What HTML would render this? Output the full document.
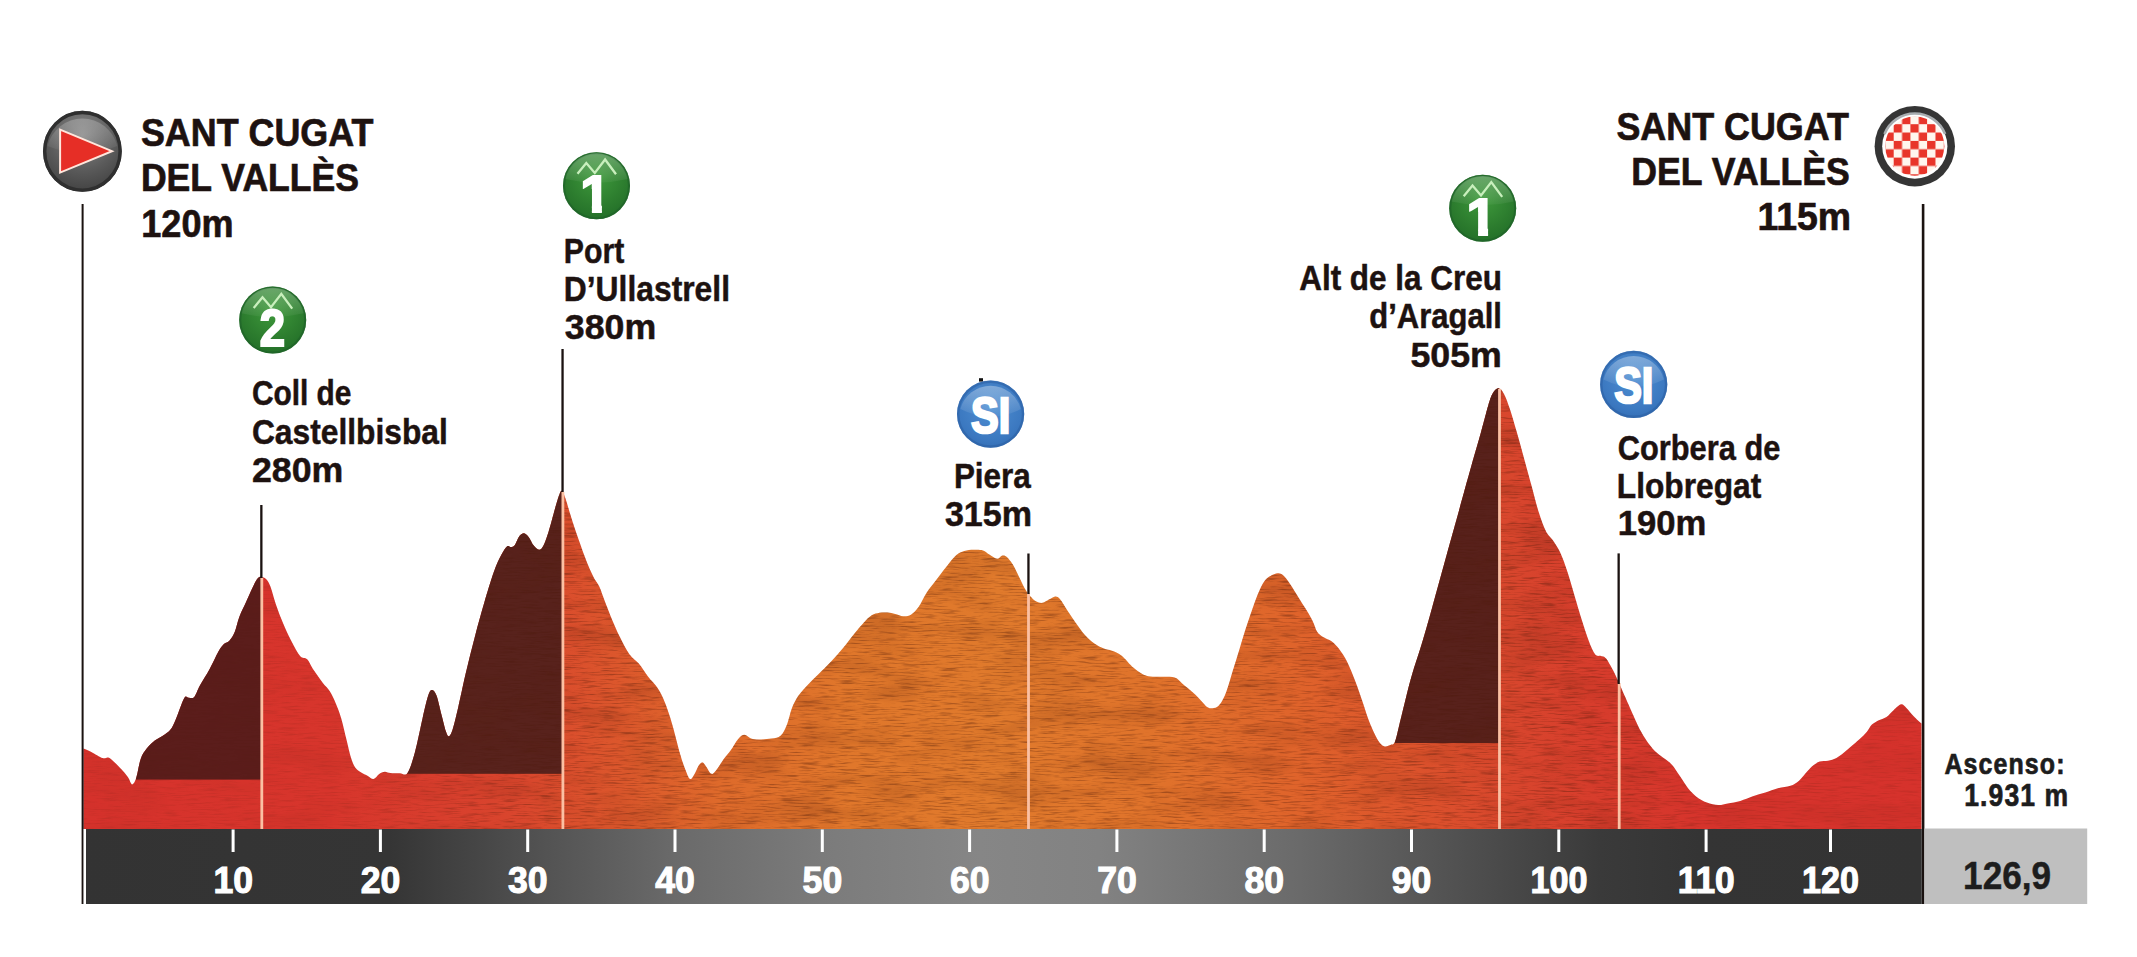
<!DOCTYPE html>
<html lang="ca"><head><meta charset="utf-8"><title>Sant Cugat del Vallès – Sant Cugat del Vallès</title>
<style>html,body{margin:0;padding:0;background:#fff}body{width:2137px;height:957px;overflow:hidden}svg{display:block}text{font-family:"Liberation Sans",sans-serif}</style>
</head><body>
<svg width="2137" height="957" viewBox="0 0 2137 957">
<defs>
<linearGradient id="pg" gradientUnits="userSpaceOnUse" x1="83" y1="0" x2="1922" y2="0">
<stop offset="0.0000" stop-color="#d6322c"/>
<stop offset="0.1343" stop-color="#d7352c"/>
<stop offset="0.1941" stop-color="#d83e2d"/>
<stop offset="0.2376" stop-color="#d9462d"/>
<stop offset="0.2920" stop-color="#dc572c"/>
<stop offset="0.3464" stop-color="#de6a2b"/>
<stop offset="0.4171" stop-color="#e0772b"/>
<stop offset="0.4986" stop-color="#e07a2c"/>
<stop offset="0.5802" stop-color="#e0732b"/>
<stop offset="0.6618" stop-color="#df632b"/>
<stop offset="0.7270" stop-color="#dc522c"/>
<stop offset="0.7814" stop-color="#d8452d"/>
<stop offset="0.8249" stop-color="#d73c2c"/>
<stop offset="0.8793" stop-color="#d6342c"/>
<stop offset="1.0000" stop-color="#d6322c"/>
</linearGradient>
<linearGradient id="bg" gradientUnits="userSpaceOnUse" x1="83" y1="0" x2="1922" y2="0">
<stop offset="0.0000" stop-color="#333333"/>
<stop offset="0.1669" stop-color="#353535"/>
<stop offset="0.2431" stop-color="#505050"/>
<stop offset="0.3219" stop-color="#6a6a6a"/>
<stop offset="0.4018" stop-color="#7b7b7b"/>
<stop offset="0.4878" stop-color="#868686"/>
<stop offset="0.5530" stop-color="#828282"/>
<stop offset="0.6618" stop-color="#6a6a6a"/>
<stop offset="0.7433" stop-color="#525252"/>
<stop offset="0.8249" stop-color="#3a3a3a"/>
<stop offset="0.8793" stop-color="#343434"/>
<stop offset="1.0000" stop-color="#333333"/>
</linearGradient>
<clipPath id="k1c"><path d="M-4.6 -14 H5.4 V30 H-4.6 Z M-16 -14 H-4 V3.4 H-16 Z"/></clipPath>
<clipPath id="pc"><path d="M83.4 748.5C84.7 749.1 88.1 750.3 91.3 751.9C94.5 753.5 99.8 757.1 102.6 758.1C105.4 759.1 106.3 757.0 108.2 757.6C110.1 758.2 111.6 759.7 113.9 761.8C116.2 763.9 120.0 767.7 122.3 770.3C124.6 772.9 126.3 774.9 128.0 777.3C129.7 779.6 130.8 784.4 132.2 784.4C133.6 784.4 135.0 781.5 136.4 777.3C137.8 773.1 139.0 763.7 140.7 759.0C142.3 754.3 144.0 752.2 146.3 749.1C148.7 746.0 151.7 743.1 154.8 740.6C157.9 738.1 161.9 736.5 164.7 734.4C167.5 732.3 169.6 731.1 171.7 727.9C173.8 724.7 175.3 720.2 177.4 715.2C179.5 710.2 182.5 700.6 184.4 697.7C186.3 694.8 187.0 697.8 188.7 697.7C190.3 697.6 192.4 698.9 194.3 696.9C196.2 694.9 197.3 690.3 199.9 685.6C202.5 680.9 206.7 674.4 209.8 668.7C212.9 663.1 216.0 655.8 218.3 651.7C220.7 647.6 222.0 646.0 223.9 644.1C225.8 642.2 227.8 642.4 229.6 640.4C231.4 638.4 233.0 636.0 234.7 632.0C236.3 628.0 237.5 621.6 239.5 616.4C241.5 611.2 244.2 606.1 246.5 600.9C248.8 595.7 251.7 589.2 253.6 585.4C255.5 581.6 256.5 579.7 257.8 578.3C259.1 576.9 260.1 576.8 261.5 576.9C262.9 577.0 264.8 577.6 266.3 579.2C267.8 580.9 268.9 582.5 270.5 586.8C272.1 591.1 274.1 599.1 276.2 605.2C278.3 611.3 280.6 617.4 283.2 623.5C285.8 629.6 288.9 636.4 291.7 641.8C294.5 647.2 297.5 653.1 300.1 656.0C302.7 658.9 305.1 657.2 307.2 659.3C309.3 661.4 310.2 664.8 312.8 668.7C315.4 672.6 319.9 679.0 322.7 682.8C325.5 686.5 327.7 687.9 329.8 691.2C331.9 694.5 333.5 698.0 335.4 702.5C337.3 707.0 339.2 711.6 341.1 718.0C343.0 724.4 345.1 734.0 346.7 740.6C348.3 747.2 349.5 753.1 350.9 757.6C352.3 762.1 353.5 765.0 355.2 767.4C356.9 769.8 358.7 770.8 360.8 772.2C362.9 773.6 365.8 774.8 367.9 775.9C370.0 777.0 371.6 779.3 373.5 779.0C375.4 778.7 377.3 775.1 379.2 773.9C381.1 772.7 382.9 771.8 384.8 771.7C386.7 771.6 388.0 772.9 390.5 773.1C393.0 773.4 397.2 773.2 400.0 773.2C402.8 773.2 405.0 776.5 407.5 773.0C410.0 769.5 412.5 761.1 415.0 752.0C417.5 742.9 420.4 727.6 422.6 718.2C424.8 708.8 426.6 700.3 428.2 695.6C429.8 690.9 430.6 690.0 432.0 690.0C433.4 690.0 434.9 691.5 436.5 695.6C438.1 699.7 439.8 708.5 441.4 714.4C443.0 720.3 444.6 727.7 445.9 731.3C447.1 734.9 447.8 736.5 448.9 736.2C450.0 735.9 451.0 734.3 452.6 729.4C454.2 724.5 456.1 716.3 458.3 706.9C460.5 697.5 463.0 684.9 465.8 673.0C468.6 661.1 472.1 647.3 475.2 635.4C478.3 623.5 481.5 612.2 484.6 601.6C487.7 591.0 491.2 579.3 494.0 571.5C496.8 563.7 499.3 558.8 501.5 554.6C503.7 550.4 505.6 547.5 507.2 546.3C508.8 545.0 509.6 547.3 510.9 547.1C512.1 546.9 513.2 547.1 514.7 545.2C516.2 543.3 518.0 537.8 519.6 535.8C521.2 533.8 522.6 533.0 524.1 533.2C525.6 533.4 527.0 534.9 528.6 536.9C530.2 538.9 531.8 543.1 533.5 545.2C535.2 547.3 537.4 549.7 539.1 549.7C540.8 549.7 542.0 548.2 543.6 545.2C545.2 542.2 546.7 537.6 548.5 532.0C550.3 526.4 552.5 517.4 554.2 511.4C555.9 505.4 557.5 499.8 558.7 496.3C560.0 492.9 560.6 490.4 561.7 490.7C562.8 491.0 563.8 493.8 565.4 498.2C567.0 502.6 568.9 510.1 571.1 517.0C573.3 523.9 576.1 532.4 578.6 539.6C581.1 546.8 583.6 553.9 586.1 560.2C588.6 566.5 591.4 572.8 593.6 577.2C595.8 581.6 597.4 582.5 599.3 586.6C601.2 590.7 602.7 596.0 604.9 601.6C607.1 607.2 609.9 614.5 612.4 620.4C614.9 626.3 617.2 631.7 620.0 637.3C622.8 642.9 626.3 649.8 629.4 654.2C632.5 658.6 635.7 659.8 638.8 663.6C641.9 667.4 645.1 672.7 648.2 676.8C651.3 680.9 654.8 683.7 657.6 688.1C660.4 692.5 662.6 696.8 665.1 703.1C667.6 709.4 670.1 717.2 672.6 725.7C675.1 734.2 677.9 746.4 680.1 753.9C682.3 761.4 684.1 766.6 685.8 770.8C687.5 775.0 688.7 778.8 690.3 779.1C691.9 779.4 693.8 775.0 695.2 772.7C696.6 770.4 697.6 766.9 698.9 765.2C700.1 763.5 701.5 762.2 702.7 762.5C704.0 762.8 705.0 765.1 706.4 767.0C707.8 768.9 709.7 773.2 711.3 773.8C712.9 774.4 713.8 773.2 715.8 770.8C717.8 768.4 720.9 763.0 723.4 759.5C725.9 756.0 728.4 753.6 730.9 750.1C733.4 746.6 736.1 741.3 738.4 738.8C740.6 736.2 742.3 734.8 744.4 734.8C746.5 734.8 748.6 737.7 751.0 738.5C753.4 739.3 755.4 739.5 758.8 739.5C762.2 739.5 767.7 739.2 771.4 738.5C775.1 737.8 778.2 737.8 780.8 735.4C783.4 733.0 785.2 728.8 787.0 724.4C788.8 720.0 789.9 713.4 791.7 708.7C793.5 704.0 795.4 700.1 798.0 696.2C800.6 692.3 804.0 688.9 807.4 685.2C810.8 681.5 814.5 678.1 818.4 674.2C822.3 670.3 826.7 666.1 830.9 661.7C835.1 657.3 839.6 652.3 843.5 647.6C847.4 642.9 851.1 637.7 854.5 633.5C857.9 629.3 861.0 625.5 863.9 622.5C866.8 619.5 869.1 616.9 871.7 615.3C874.3 613.7 876.9 613.3 879.5 612.8C882.1 612.3 884.8 612.3 887.4 612.5C890.0 612.7 892.6 613.4 895.2 614.0C897.8 614.6 900.5 616.1 903.1 616.2C905.7 616.3 908.3 616.3 910.9 614.7C913.5 613.1 916.1 610.5 918.7 606.8C921.3 603.1 923.7 597.1 926.6 592.7C929.5 588.3 932.6 584.6 936.0 580.2C939.4 575.8 943.6 570.3 947.0 566.1C950.4 561.9 953.5 557.6 956.4 555.1C959.3 552.6 961.3 551.9 964.2 551.0C967.1 550.1 970.5 549.9 973.6 549.8C976.7 549.7 980.4 549.6 983.0 550.4C985.6 551.2 986.9 553.1 989.3 554.5C991.6 555.9 995.0 558.6 997.1 558.8C999.2 559.0 1000.2 556.1 1001.8 555.7C1003.4 555.4 1004.7 555.2 1006.5 556.7C1008.3 558.2 1010.7 561.1 1012.8 564.5C1014.9 567.9 1017.0 572.8 1019.1 577.0C1021.2 581.2 1023.6 586.5 1025.4 589.6C1027.2 592.8 1028.3 593.9 1030.1 595.9C1031.9 597.9 1034.2 600.4 1036.3 601.5C1038.4 602.6 1040.5 603.1 1042.6 602.8C1044.7 602.5 1046.8 600.6 1048.9 599.6C1051.0 598.6 1053.4 596.6 1055.2 596.5C1057.0 596.4 1058.1 597.0 1059.9 599.0C1061.7 601.0 1063.5 604.5 1066.1 608.4C1068.7 612.3 1072.4 618.1 1075.5 622.5C1078.6 626.9 1081.8 631.5 1084.9 635.0C1088.1 638.5 1091.2 641.2 1094.4 643.5C1097.6 645.8 1100.9 647.3 1103.8 648.5C1106.7 649.7 1109.1 649.6 1112.0 650.7C1114.9 651.9 1117.8 652.5 1121.4 655.4C1125.1 658.3 1129.7 664.6 1133.9 668.0C1138.1 671.4 1141.7 674.3 1146.4 675.8C1151.1 677.3 1157.4 676.5 1162.1 676.8C1166.8 677.1 1171.3 676.2 1174.7 677.4C1178.1 678.5 1179.4 681.1 1182.5 683.7C1185.6 686.3 1190.4 690.2 1193.5 693.1C1196.6 696.0 1199.0 698.5 1201.3 700.9C1203.6 703.2 1205.5 706.0 1207.6 707.2C1209.7 708.4 1211.8 708.6 1213.9 708.1C1216.0 707.6 1218.0 706.8 1220.1 704.0C1222.2 701.2 1224.3 697.0 1226.4 691.5C1228.5 686.0 1230.6 677.9 1232.7 671.1C1234.8 664.3 1236.9 657.5 1239.0 650.7C1241.1 643.9 1243.1 636.8 1245.2 630.3C1247.3 623.8 1249.4 617.5 1251.5 611.5C1253.6 605.5 1255.7 599.3 1257.8 594.3C1259.9 589.3 1261.9 584.7 1264.0 581.7C1266.1 578.7 1267.9 577.5 1270.3 576.1C1272.7 574.7 1275.8 573.2 1278.2 573.3C1280.6 573.3 1282.3 574.5 1284.4 576.4C1286.5 578.3 1288.4 581.4 1290.7 584.9C1293.0 588.4 1295.9 593.2 1298.5 597.4C1301.1 601.6 1304.1 606.1 1306.4 610.0C1308.8 613.9 1310.8 617.2 1312.6 620.9C1314.4 624.5 1315.5 629.2 1317.3 631.9C1319.1 634.6 1321.2 635.6 1323.6 637.2C1326.0 638.8 1328.9 639.3 1331.5 641.3C1334.1 643.3 1336.7 645.8 1339.3 649.2C1341.9 652.6 1344.5 656.5 1347.1 661.7C1349.7 666.9 1352.4 673.7 1355.0 680.5C1357.6 687.3 1360.5 695.7 1362.8 702.5C1365.1 709.3 1367.0 715.8 1369.1 721.3C1371.2 726.8 1373.6 731.8 1375.4 735.4C1377.2 739.0 1378.5 741.4 1380.1 743.2C1381.7 745.0 1383.0 746.1 1384.8 746.4C1386.6 746.7 1389.3 745.7 1391.0 744.8C1392.7 743.9 1393.5 745.5 1395.2 741.0C1396.9 736.5 1398.3 728.6 1401.0 718.0C1403.7 707.4 1407.5 690.6 1411.2 677.5C1414.9 664.4 1419.2 652.7 1423.2 639.1C1427.2 625.5 1431.3 610.3 1435.3 595.9C1439.3 581.5 1443.3 567.0 1447.3 552.6C1451.3 538.2 1455.3 523.8 1459.3 509.4C1463.3 495.0 1467.7 478.9 1471.3 466.1C1474.9 453.3 1478.1 442.5 1480.9 432.5C1483.7 422.5 1486.1 412.6 1488.1 406.0C1490.1 399.4 1491.1 396.1 1492.9 393.1C1494.7 390.2 1496.9 388.2 1498.7 388.3C1500.5 388.4 1502.2 390.6 1504.0 394.0C1505.8 397.4 1507.5 402.0 1509.7 408.4C1511.9 414.8 1514.5 424.1 1516.9 432.5C1519.3 440.9 1521.8 450.1 1524.2 458.9C1526.6 467.7 1529.0 476.5 1531.4 485.3C1533.8 494.1 1536.2 504.2 1538.6 511.8C1541.0 519.4 1543.4 526.2 1545.8 531.0C1548.2 535.8 1550.6 537.0 1553.0 540.6C1555.4 544.2 1557.8 547.4 1560.2 552.6C1562.6 557.8 1565.0 564.6 1567.4 571.8C1569.8 579.0 1572.2 587.9 1574.6 595.9C1577.0 603.9 1579.4 612.3 1581.8 619.9C1584.2 627.5 1586.8 635.7 1589.0 641.5C1591.2 647.3 1593.3 652.1 1595.3 654.5C1597.3 656.9 1599.2 655.3 1601.0 655.9C1602.8 656.5 1603.9 655.9 1605.9 658.3C1607.9 660.7 1610.9 666.3 1613.1 670.3C1615.2 674.3 1616.8 678.0 1618.8 682.4C1620.8 686.8 1622.4 690.8 1625.1 696.8C1627.8 702.8 1632.2 712.9 1634.7 718.4C1637.2 723.9 1638.1 726.1 1640.0 729.8C1641.9 733.4 1643.9 736.8 1646.3 740.3C1648.7 743.8 1651.5 747.6 1654.6 750.7C1657.7 753.8 1662.1 756.7 1665.1 759.1C1668.1 761.5 1670.0 762.5 1672.4 765.3C1674.8 768.1 1677.1 772.0 1679.7 775.8C1682.3 779.6 1685.3 784.8 1688.1 788.3C1690.9 791.8 1693.3 794.3 1696.4 796.7C1699.5 799.1 1703.2 801.1 1706.9 802.5C1710.6 803.9 1714.8 804.9 1718.3 805.0C1721.8 805.1 1724.0 804.1 1727.7 803.4C1731.4 802.7 1736.1 802.1 1740.3 800.9C1744.5 799.7 1748.6 797.7 1752.8 796.3C1757.0 794.9 1761.1 793.8 1765.3 792.5C1769.5 791.2 1773.7 789.4 1777.9 788.3C1782.1 787.2 1786.9 787.0 1790.4 785.8C1793.9 784.6 1796.0 783.4 1798.8 781.0C1801.6 778.6 1804.7 774.2 1807.1 771.6C1809.5 769.0 1811.3 767.0 1813.4 765.3C1815.5 763.6 1817.3 762.4 1819.7 761.6C1822.1 760.9 1825.2 761.4 1828.0 760.8C1830.8 760.2 1833.8 759.3 1836.4 758.0C1839.0 756.7 1841.3 754.7 1843.7 752.8C1846.1 750.9 1848.4 748.8 1851.0 746.5C1853.6 744.2 1856.8 741.6 1859.4 739.2C1862.0 736.8 1864.6 734.3 1866.7 731.9C1868.8 729.5 1870.0 726.5 1871.9 724.6C1873.8 722.7 1875.8 721.7 1878.2 720.4C1880.6 719.1 1883.9 718.6 1886.5 716.9C1889.1 715.2 1891.4 712.1 1893.8 710.0C1896.2 707.9 1899.0 704.6 1901.1 704.3C1903.2 703.9 1904.3 705.9 1906.4 707.9C1908.5 709.9 1911.2 713.7 1913.7 716.3C1916.2 718.9 1920.2 722.4 1921.5 723.6L1921.5 829.0 L83.4 829.0 Z"/></clipPath>
<radialGradient id="gk" cx="0.5" cy="0.35" r="0.75"><stop offset="0" stop-color="#3f9a3c"/><stop offset="0.6" stop-color="#2c7c2e"/><stop offset="1" stop-color="#1f6a26"/></radialGradient>
<radialGradient id="gs" cx="0.5" cy="0.4" r="0.7"><stop offset="0" stop-color="#4f8fd2"/><stop offset="0.7" stop-color="#3b78c0"/><stop offset="1" stop-color="#2f68ad"/></radialGradient>
<linearGradient id="gloss" x1="0" y1="0" x2="0" y2="1"><stop offset="0" stop-color="#fff" stop-opacity="0.55"/><stop offset="1" stop-color="#fff" stop-opacity="0.08"/></linearGradient>
<radialGradient id="gst" cx="0.5" cy="0.3" r="0.8"><stop offset="0" stop-color="#8a8a8a"/><stop offset="0.55" stop-color="#5a5a5a"/><stop offset="1" stop-color="#3a3a3a"/></radialGradient>
<pattern id="chk" x="1910.4" y="140.9" width="16.7" height="16.7" patternUnits="userSpaceOnUse"><rect width="16.7" height="16.7" fill="#fff6ee"/><rect width="8.35" height="8.35" fill="#e8352a"/><rect x="8.35" y="8.35" width="8.35" height="8.35" fill="#e8352a"/></pattern>
<filter id="tex" filterUnits="userSpaceOnUse" x="80" y="380" width="1845" height="450" color-interpolation-filters="sRGB"><feTurbulence type="fractalNoise" baseFrequency="0.05 0.65" numOctaves="3" seed="7" result="n"/><feColorMatrix in="n" type="matrix" values="0 0 0 0 0.30  0 0 0 0 0.10  0 0 0 0 0.04  3.0 0 0 0 -1.45"/></filter>
<filter id="tex2" filterUnits="userSpaceOnUse" x="80" y="380" width="1845" height="450" color-interpolation-filters="sRGB"><feTurbulence type="fractalNoise" baseFrequency="0.012 0.04" numOctaves="3" seed="11" result="n"/><feColorMatrix in="n" type="matrix" values="0 0 0 0 0.35  0 0 0 0 0.12  0 0 0 0 0.05  2.6 0 0 0 -1.2"/></filter>
<linearGradient id="tmg" gradientUnits="userSpaceOnUse" x1="83" y1="0" x2="1922" y2="0"><stop offset="0" stop-color="#fff" stop-opacity="0.3"/><stop offset="0.14" stop-color="#fff" stop-opacity="0.35"/><stop offset="0.25" stop-color="#fff" stop-opacity="1"/><stop offset="0.82" stop-color="#fff" stop-opacity="1"/><stop offset="0.9" stop-color="#fff" stop-opacity="0.5"/><stop offset="1" stop-color="#fff" stop-opacity="0.35"/></linearGradient>
<mask id="tm" maskUnits="userSpaceOnUse" x="80" y="380" width="1845" height="450"><rect x="80" y="380" width="1845" height="450" fill="url(#tmg)"/></mask>
</defs>
<rect width="2137" height="957" fill="#fff"/>
<path d="M83.4 748.5C84.7 749.1 88.1 750.3 91.3 751.9C94.5 753.5 99.8 757.1 102.6 758.1C105.4 759.1 106.3 757.0 108.2 757.6C110.1 758.2 111.6 759.7 113.9 761.8C116.2 763.9 120.0 767.7 122.3 770.3C124.6 772.9 126.3 774.9 128.0 777.3C129.7 779.6 130.8 784.4 132.2 784.4C133.6 784.4 135.0 781.5 136.4 777.3C137.8 773.1 139.0 763.7 140.7 759.0C142.3 754.3 144.0 752.2 146.3 749.1C148.7 746.0 151.7 743.1 154.8 740.6C157.9 738.1 161.9 736.5 164.7 734.4C167.5 732.3 169.6 731.1 171.7 727.9C173.8 724.7 175.3 720.2 177.4 715.2C179.5 710.2 182.5 700.6 184.4 697.7C186.3 694.8 187.0 697.8 188.7 697.7C190.3 697.6 192.4 698.9 194.3 696.9C196.2 694.9 197.3 690.3 199.9 685.6C202.5 680.9 206.7 674.4 209.8 668.7C212.9 663.1 216.0 655.8 218.3 651.7C220.7 647.6 222.0 646.0 223.9 644.1C225.8 642.2 227.8 642.4 229.6 640.4C231.4 638.4 233.0 636.0 234.7 632.0C236.3 628.0 237.5 621.6 239.5 616.4C241.5 611.2 244.2 606.1 246.5 600.9C248.8 595.7 251.7 589.2 253.6 585.4C255.5 581.6 256.5 579.7 257.8 578.3C259.1 576.9 260.1 576.8 261.5 576.9C262.9 577.0 264.8 577.6 266.3 579.2C267.8 580.9 268.9 582.5 270.5 586.8C272.1 591.1 274.1 599.1 276.2 605.2C278.3 611.3 280.6 617.4 283.2 623.5C285.8 629.6 288.9 636.4 291.7 641.8C294.5 647.2 297.5 653.1 300.1 656.0C302.7 658.9 305.1 657.2 307.2 659.3C309.3 661.4 310.2 664.8 312.8 668.7C315.4 672.6 319.9 679.0 322.7 682.8C325.5 686.5 327.7 687.9 329.8 691.2C331.9 694.5 333.5 698.0 335.4 702.5C337.3 707.0 339.2 711.6 341.1 718.0C343.0 724.4 345.1 734.0 346.7 740.6C348.3 747.2 349.5 753.1 350.9 757.6C352.3 762.1 353.5 765.0 355.2 767.4C356.9 769.8 358.7 770.8 360.8 772.2C362.9 773.6 365.8 774.8 367.9 775.9C370.0 777.0 371.6 779.3 373.5 779.0C375.4 778.7 377.3 775.1 379.2 773.9C381.1 772.7 382.9 771.8 384.8 771.7C386.7 771.6 388.0 772.9 390.5 773.1C393.0 773.4 397.2 773.2 400.0 773.2C402.8 773.2 405.0 776.5 407.5 773.0C410.0 769.5 412.5 761.1 415.0 752.0C417.5 742.9 420.4 727.6 422.6 718.2C424.8 708.8 426.6 700.3 428.2 695.6C429.8 690.9 430.6 690.0 432.0 690.0C433.4 690.0 434.9 691.5 436.5 695.6C438.1 699.7 439.8 708.5 441.4 714.4C443.0 720.3 444.6 727.7 445.9 731.3C447.1 734.9 447.8 736.5 448.9 736.2C450.0 735.9 451.0 734.3 452.6 729.4C454.2 724.5 456.1 716.3 458.3 706.9C460.5 697.5 463.0 684.9 465.8 673.0C468.6 661.1 472.1 647.3 475.2 635.4C478.3 623.5 481.5 612.2 484.6 601.6C487.7 591.0 491.2 579.3 494.0 571.5C496.8 563.7 499.3 558.8 501.5 554.6C503.7 550.4 505.6 547.5 507.2 546.3C508.8 545.0 509.6 547.3 510.9 547.1C512.1 546.9 513.2 547.1 514.7 545.2C516.2 543.3 518.0 537.8 519.6 535.8C521.2 533.8 522.6 533.0 524.1 533.2C525.6 533.4 527.0 534.9 528.6 536.9C530.2 538.9 531.8 543.1 533.5 545.2C535.2 547.3 537.4 549.7 539.1 549.7C540.8 549.7 542.0 548.2 543.6 545.2C545.2 542.2 546.7 537.6 548.5 532.0C550.3 526.4 552.5 517.4 554.2 511.4C555.9 505.4 557.5 499.8 558.7 496.3C560.0 492.9 560.6 490.4 561.7 490.7C562.8 491.0 563.8 493.8 565.4 498.2C567.0 502.6 568.9 510.1 571.1 517.0C573.3 523.9 576.1 532.4 578.6 539.6C581.1 546.8 583.6 553.9 586.1 560.2C588.6 566.5 591.4 572.8 593.6 577.2C595.8 581.6 597.4 582.5 599.3 586.6C601.2 590.7 602.7 596.0 604.9 601.6C607.1 607.2 609.9 614.5 612.4 620.4C614.9 626.3 617.2 631.7 620.0 637.3C622.8 642.9 626.3 649.8 629.4 654.2C632.5 658.6 635.7 659.8 638.8 663.6C641.9 667.4 645.1 672.7 648.2 676.8C651.3 680.9 654.8 683.7 657.6 688.1C660.4 692.5 662.6 696.8 665.1 703.1C667.6 709.4 670.1 717.2 672.6 725.7C675.1 734.2 677.9 746.4 680.1 753.9C682.3 761.4 684.1 766.6 685.8 770.8C687.5 775.0 688.7 778.8 690.3 779.1C691.9 779.4 693.8 775.0 695.2 772.7C696.6 770.4 697.6 766.9 698.9 765.2C700.1 763.5 701.5 762.2 702.7 762.5C704.0 762.8 705.0 765.1 706.4 767.0C707.8 768.9 709.7 773.2 711.3 773.8C712.9 774.4 713.8 773.2 715.8 770.8C717.8 768.4 720.9 763.0 723.4 759.5C725.9 756.0 728.4 753.6 730.9 750.1C733.4 746.6 736.1 741.3 738.4 738.8C740.6 736.2 742.3 734.8 744.4 734.8C746.5 734.8 748.6 737.7 751.0 738.5C753.4 739.3 755.4 739.5 758.8 739.5C762.2 739.5 767.7 739.2 771.4 738.5C775.1 737.8 778.2 737.8 780.8 735.4C783.4 733.0 785.2 728.8 787.0 724.4C788.8 720.0 789.9 713.4 791.7 708.7C793.5 704.0 795.4 700.1 798.0 696.2C800.6 692.3 804.0 688.9 807.4 685.2C810.8 681.5 814.5 678.1 818.4 674.2C822.3 670.3 826.7 666.1 830.9 661.7C835.1 657.3 839.6 652.3 843.5 647.6C847.4 642.9 851.1 637.7 854.5 633.5C857.9 629.3 861.0 625.5 863.9 622.5C866.8 619.5 869.1 616.9 871.7 615.3C874.3 613.7 876.9 613.3 879.5 612.8C882.1 612.3 884.8 612.3 887.4 612.5C890.0 612.7 892.6 613.4 895.2 614.0C897.8 614.6 900.5 616.1 903.1 616.2C905.7 616.3 908.3 616.3 910.9 614.7C913.5 613.1 916.1 610.5 918.7 606.8C921.3 603.1 923.7 597.1 926.6 592.7C929.5 588.3 932.6 584.6 936.0 580.2C939.4 575.8 943.6 570.3 947.0 566.1C950.4 561.9 953.5 557.6 956.4 555.1C959.3 552.6 961.3 551.9 964.2 551.0C967.1 550.1 970.5 549.9 973.6 549.8C976.7 549.7 980.4 549.6 983.0 550.4C985.6 551.2 986.9 553.1 989.3 554.5C991.6 555.9 995.0 558.6 997.1 558.8C999.2 559.0 1000.2 556.1 1001.8 555.7C1003.4 555.4 1004.7 555.2 1006.5 556.7C1008.3 558.2 1010.7 561.1 1012.8 564.5C1014.9 567.9 1017.0 572.8 1019.1 577.0C1021.2 581.2 1023.6 586.5 1025.4 589.6C1027.2 592.8 1028.3 593.9 1030.1 595.9C1031.9 597.9 1034.2 600.4 1036.3 601.5C1038.4 602.6 1040.5 603.1 1042.6 602.8C1044.7 602.5 1046.8 600.6 1048.9 599.6C1051.0 598.6 1053.4 596.6 1055.2 596.5C1057.0 596.4 1058.1 597.0 1059.9 599.0C1061.7 601.0 1063.5 604.5 1066.1 608.4C1068.7 612.3 1072.4 618.1 1075.5 622.5C1078.6 626.9 1081.8 631.5 1084.9 635.0C1088.1 638.5 1091.2 641.2 1094.4 643.5C1097.6 645.8 1100.9 647.3 1103.8 648.5C1106.7 649.7 1109.1 649.6 1112.0 650.7C1114.9 651.9 1117.8 652.5 1121.4 655.4C1125.1 658.3 1129.7 664.6 1133.9 668.0C1138.1 671.4 1141.7 674.3 1146.4 675.8C1151.1 677.3 1157.4 676.5 1162.1 676.8C1166.8 677.1 1171.3 676.2 1174.7 677.4C1178.1 678.5 1179.4 681.1 1182.5 683.7C1185.6 686.3 1190.4 690.2 1193.5 693.1C1196.6 696.0 1199.0 698.5 1201.3 700.9C1203.6 703.2 1205.5 706.0 1207.6 707.2C1209.7 708.4 1211.8 708.6 1213.9 708.1C1216.0 707.6 1218.0 706.8 1220.1 704.0C1222.2 701.2 1224.3 697.0 1226.4 691.5C1228.5 686.0 1230.6 677.9 1232.7 671.1C1234.8 664.3 1236.9 657.5 1239.0 650.7C1241.1 643.9 1243.1 636.8 1245.2 630.3C1247.3 623.8 1249.4 617.5 1251.5 611.5C1253.6 605.5 1255.7 599.3 1257.8 594.3C1259.9 589.3 1261.9 584.7 1264.0 581.7C1266.1 578.7 1267.9 577.5 1270.3 576.1C1272.7 574.7 1275.8 573.2 1278.2 573.3C1280.6 573.3 1282.3 574.5 1284.4 576.4C1286.5 578.3 1288.4 581.4 1290.7 584.9C1293.0 588.4 1295.9 593.2 1298.5 597.4C1301.1 601.6 1304.1 606.1 1306.4 610.0C1308.8 613.9 1310.8 617.2 1312.6 620.9C1314.4 624.5 1315.5 629.2 1317.3 631.9C1319.1 634.6 1321.2 635.6 1323.6 637.2C1326.0 638.8 1328.9 639.3 1331.5 641.3C1334.1 643.3 1336.7 645.8 1339.3 649.2C1341.9 652.6 1344.5 656.5 1347.1 661.7C1349.7 666.9 1352.4 673.7 1355.0 680.5C1357.6 687.3 1360.5 695.7 1362.8 702.5C1365.1 709.3 1367.0 715.8 1369.1 721.3C1371.2 726.8 1373.6 731.8 1375.4 735.4C1377.2 739.0 1378.5 741.4 1380.1 743.2C1381.7 745.0 1383.0 746.1 1384.8 746.4C1386.6 746.7 1389.3 745.7 1391.0 744.8C1392.7 743.9 1393.5 745.5 1395.2 741.0C1396.9 736.5 1398.3 728.6 1401.0 718.0C1403.7 707.4 1407.5 690.6 1411.2 677.5C1414.9 664.4 1419.2 652.7 1423.2 639.1C1427.2 625.5 1431.3 610.3 1435.3 595.9C1439.3 581.5 1443.3 567.0 1447.3 552.6C1451.3 538.2 1455.3 523.8 1459.3 509.4C1463.3 495.0 1467.7 478.9 1471.3 466.1C1474.9 453.3 1478.1 442.5 1480.9 432.5C1483.7 422.5 1486.1 412.6 1488.1 406.0C1490.1 399.4 1491.1 396.1 1492.9 393.1C1494.7 390.2 1496.9 388.2 1498.7 388.3C1500.5 388.4 1502.2 390.6 1504.0 394.0C1505.8 397.4 1507.5 402.0 1509.7 408.4C1511.9 414.8 1514.5 424.1 1516.9 432.5C1519.3 440.9 1521.8 450.1 1524.2 458.9C1526.6 467.7 1529.0 476.5 1531.4 485.3C1533.8 494.1 1536.2 504.2 1538.6 511.8C1541.0 519.4 1543.4 526.2 1545.8 531.0C1548.2 535.8 1550.6 537.0 1553.0 540.6C1555.4 544.2 1557.8 547.4 1560.2 552.6C1562.6 557.8 1565.0 564.6 1567.4 571.8C1569.8 579.0 1572.2 587.9 1574.6 595.9C1577.0 603.9 1579.4 612.3 1581.8 619.9C1584.2 627.5 1586.8 635.7 1589.0 641.5C1591.2 647.3 1593.3 652.1 1595.3 654.5C1597.3 656.9 1599.2 655.3 1601.0 655.9C1602.8 656.5 1603.9 655.9 1605.9 658.3C1607.9 660.7 1610.9 666.3 1613.1 670.3C1615.2 674.3 1616.8 678.0 1618.8 682.4C1620.8 686.8 1622.4 690.8 1625.1 696.8C1627.8 702.8 1632.2 712.9 1634.7 718.4C1637.2 723.9 1638.1 726.1 1640.0 729.8C1641.9 733.4 1643.9 736.8 1646.3 740.3C1648.7 743.8 1651.5 747.6 1654.6 750.7C1657.7 753.8 1662.1 756.7 1665.1 759.1C1668.1 761.5 1670.0 762.5 1672.4 765.3C1674.8 768.1 1677.1 772.0 1679.7 775.8C1682.3 779.6 1685.3 784.8 1688.1 788.3C1690.9 791.8 1693.3 794.3 1696.4 796.7C1699.5 799.1 1703.2 801.1 1706.9 802.5C1710.6 803.9 1714.8 804.9 1718.3 805.0C1721.8 805.1 1724.0 804.1 1727.7 803.4C1731.4 802.7 1736.1 802.1 1740.3 800.9C1744.5 799.7 1748.6 797.7 1752.8 796.3C1757.0 794.9 1761.1 793.8 1765.3 792.5C1769.5 791.2 1773.7 789.4 1777.9 788.3C1782.1 787.2 1786.9 787.0 1790.4 785.8C1793.9 784.6 1796.0 783.4 1798.8 781.0C1801.6 778.6 1804.7 774.2 1807.1 771.6C1809.5 769.0 1811.3 767.0 1813.4 765.3C1815.5 763.6 1817.3 762.4 1819.7 761.6C1822.1 760.9 1825.2 761.4 1828.0 760.8C1830.8 760.2 1833.8 759.3 1836.4 758.0C1839.0 756.7 1841.3 754.7 1843.7 752.8C1846.1 750.9 1848.4 748.8 1851.0 746.5C1853.6 744.2 1856.8 741.6 1859.4 739.2C1862.0 736.8 1864.6 734.3 1866.7 731.9C1868.8 729.5 1870.0 726.5 1871.9 724.6C1873.8 722.7 1875.8 721.7 1878.2 720.4C1880.6 719.1 1883.9 718.6 1886.5 716.9C1889.1 715.2 1891.4 712.1 1893.8 710.0C1896.2 707.9 1899.0 704.6 1901.1 704.3C1903.2 703.9 1904.3 705.9 1906.4 707.9C1908.5 709.9 1911.2 713.7 1913.7 716.3C1916.2 718.9 1920.2 722.4 1921.5 723.6L1921.5 829.0 L83.4 829.0 Z" fill="url(#pg)"/>
<g clip-path="url(#pc)">
<rect x="136" y="560" width="125.2" height="219.6" fill="#5b1d1b"/>
<rect x="407" y="470" width="155.0" height="303.8" fill="#58221c"/>
<rect x="1394.5" y="370" width="104.5" height="373.0" fill="#58211b"/>
</g>
<g clip-path="url(#pc)" mask="url(#tm)"><rect x="80" y="380" width="1845" height="450" filter="url(#tex2)" opacity="0.18"/><rect x="80" y="380" width="1845" height="450" filter="url(#tex)" opacity="0.36"/></g>
<rect x="260.4" y="578.0" width="2.8" height="251.0" fill="#fbc0a3"/>
<rect x="561.5" y="492.0" width="2.8" height="337.0" fill="#fbc0a3"/>
<rect x="1027.1" y="593.0" width="2.8" height="236.0" fill="#fbc0a3"/>
<rect x="1498.1" y="389.0" width="2.8" height="440.0" fill="#fbc0a3"/>
<rect x="1617.8" y="683.0" width="2.8" height="146.0" fill="#fbc0a3"/>
<rect x="260.2" y="505.0" width="2.3" height="73.0" fill="#1a1210"/>
<rect x="561.4" y="349.0" width="2.3" height="143.0" fill="#1a1210"/>
<rect x="1027.3" y="553.5" width="2.3" height="40.5" fill="#1a1210"/>
<rect x="1617.5" y="553.4" width="2.3" height="130.6" fill="#1a1210"/>
<rect x="81.6" y="204" width="2" height="700.0" fill="#1a1210"/>
<rect x="1921.8" y="204" width="2.6" height="700.0" fill="#1a1210"/>
<rect x="83.5" y="829.0" width="1838.3" height="75.0" fill="url(#bg)"/>
<rect x="83.6" y="829.0" width="2.4" height="75.0" fill="#fff"/>
<rect x="1924.4" y="828.5" width="162.8" height="75.5" fill="#bfbfbf"/>
<rect x="231.6" y="829.5" width="3" height="22.5" fill="#fff"/>
<text x="233.2" y="892.8" font-size="36.5" font-weight="bold" text-anchor="middle" fill="#fff" textLength="39.6" lengthAdjust="spacingAndGlyphs" stroke="#fff" stroke-width="1.1">10</text>
<rect x="378.9" y="829.5" width="3" height="22.5" fill="#fff"/>
<text x="380.5" y="892.8" font-size="36.5" font-weight="bold" text-anchor="middle" fill="#fff" textLength="39.6" lengthAdjust="spacingAndGlyphs" stroke="#fff" stroke-width="1.1">20</text>
<rect x="526.2" y="829.5" width="3" height="22.5" fill="#fff"/>
<text x="527.8" y="892.8" font-size="36.5" font-weight="bold" text-anchor="middle" fill="#fff" textLength="39.6" lengthAdjust="spacingAndGlyphs" stroke="#fff" stroke-width="1.1">30</text>
<rect x="673.5" y="829.5" width="3" height="22.5" fill="#fff"/>
<text x="675.1" y="892.8" font-size="36.5" font-weight="bold" text-anchor="middle" fill="#fff" textLength="39.6" lengthAdjust="spacingAndGlyphs" stroke="#fff" stroke-width="1.1">40</text>
<rect x="820.8" y="829.5" width="3" height="22.5" fill="#fff"/>
<text x="822.4" y="892.8" font-size="36.5" font-weight="bold" text-anchor="middle" fill="#fff" textLength="39.6" lengthAdjust="spacingAndGlyphs" stroke="#fff" stroke-width="1.1">50</text>
<rect x="968.1" y="829.5" width="3" height="22.5" fill="#fff"/>
<text x="969.7" y="892.8" font-size="36.5" font-weight="bold" text-anchor="middle" fill="#fff" textLength="39.6" lengthAdjust="spacingAndGlyphs" stroke="#fff" stroke-width="1.1">60</text>
<rect x="1115.4" y="829.5" width="3" height="22.5" fill="#fff"/>
<text x="1117.0" y="892.8" font-size="36.5" font-weight="bold" text-anchor="middle" fill="#fff" textLength="39.6" lengthAdjust="spacingAndGlyphs" stroke="#fff" stroke-width="1.1">70</text>
<rect x="1262.7" y="829.5" width="3" height="22.5" fill="#fff"/>
<text x="1264.3" y="892.8" font-size="36.5" font-weight="bold" text-anchor="middle" fill="#fff" textLength="39.6" lengthAdjust="spacingAndGlyphs" stroke="#fff" stroke-width="1.1">80</text>
<rect x="1410.0" y="829.5" width="3" height="22.5" fill="#fff"/>
<text x="1411.6" y="892.8" font-size="36.5" font-weight="bold" text-anchor="middle" fill="#fff" textLength="39.6" lengthAdjust="spacingAndGlyphs" stroke="#fff" stroke-width="1.1">90</text>
<rect x="1557.3" y="829.5" width="3" height="22.5" fill="#fff"/>
<text x="1558.9" y="892.8" font-size="36.5" font-weight="bold" text-anchor="middle" fill="#fff" textLength="57.0" lengthAdjust="spacingAndGlyphs" stroke="#fff" stroke-width="1.1">100</text>
<rect x="1704.6" y="829.5" width="3" height="22.5" fill="#fff"/>
<text x="1706.2" y="892.8" font-size="36.5" font-weight="bold" text-anchor="middle" fill="#fff" textLength="57.0" lengthAdjust="spacingAndGlyphs" stroke="#fff" stroke-width="1.1">110</text>
<rect x="1829.0" y="829.5" width="3" height="22.5" fill="#fff"/>
<text x="1830.6" y="892.8" font-size="36.5" font-weight="bold" text-anchor="middle" fill="#fff" textLength="57.0" lengthAdjust="spacingAndGlyphs" stroke="#fff" stroke-width="1.1">120</text>
<g transform="translate(272.7,320.0)"><circle cx="0" cy="0" r="33.5" fill="url(#gk)"/><circle cx="0" cy="0" r="32.5" fill="none" stroke="#1f632a" stroke-width="2" opacity="0.7"/><path d="M-31.2 -6.7 A31.8 31.8 0 0 1 31.2 -6.7 Q0 0.7 -31.2 -6.7 Z" fill="url(#gloss)" opacity="0.5"/><polyline points="-19,-12 -10.2,-22.7 -1.7,-12.8 8.6,-26.2 19.5,-11.4" fill="none" stroke="#c9efbd" stroke-width="2.3" stroke-linejoin="miter"/><text x="-0.2" y="26.0" font-size="52.0" font-weight="bold" text-anchor="middle" fill="#fff" textLength="25.3" lengthAdjust="spacingAndGlyphs" stroke="#fff" stroke-width="2.2" stroke-linejoin="miter">2</text></g>
<g transform="translate(596.5,185.7)"><circle cx="0" cy="0" r="33.5" fill="url(#gk)"/><circle cx="0" cy="0" r="32.5" fill="none" stroke="#1f632a" stroke-width="2" opacity="0.7"/><path d="M-31.2 -6.7 A31.8 31.8 0 0 1 31.2 -6.7 Q0 0.7 -31.2 -6.7 Z" fill="url(#gloss)" opacity="0.5"/><polyline points="-19,-12 -10.2,-22.7 -1.7,-12.8 8.6,-26.2 19.5,-11.4" fill="none" stroke="#c9efbd" stroke-width="2.3" stroke-linejoin="miter"/><g clip-path="url(#k1c)"><text x="-1.2" y="26.4" font-size="51.4" font-weight="bold" text-anchor="middle" fill="#fff" textLength="30.0" lengthAdjust="spacingAndGlyphs" stroke="#fff" stroke-width="2" stroke-linejoin="miter">1</text></g></g>
<g transform="translate(1482.7,208.3)"><circle cx="0" cy="0" r="33.5" fill="url(#gk)"/><circle cx="0" cy="0" r="32.5" fill="none" stroke="#1f632a" stroke-width="2" opacity="0.7"/><path d="M-31.2 -6.7 A31.8 31.8 0 0 1 31.2 -6.7 Q0 0.7 -31.2 -6.7 Z" fill="url(#gloss)" opacity="0.5"/><polyline points="-19,-12 -10.2,-22.7 -1.7,-12.8 8.6,-26.2 19.5,-11.4" fill="none" stroke="#c9efbd" stroke-width="2.3" stroke-linejoin="miter"/><g clip-path="url(#k1c)"><text x="-1.2" y="26.4" font-size="51.4" font-weight="bold" text-anchor="middle" fill="#fff" textLength="30.0" lengthAdjust="spacingAndGlyphs" stroke="#fff" stroke-width="2" stroke-linejoin="miter">1</text></g></g>
<rect x="979" y="378.2" width="4" height="3.4" fill="#111"/>
<g><circle cx="990.6" cy="414.1" r="33.6" fill="url(#gs)"/><circle cx="990.6" cy="414.1" r="32.4" fill="none" stroke="#2b5fa3" stroke-width="2.4" opacity="0.55"/><path d="M960.4 409.1 A31.2 31.2 0 0 1 1020.8 409.1 Q990.6 424.2 960.4 409.1 Z" fill="url(#gloss)" opacity="0.6"/><text x="990.7" y="432.7" font-size="50.5" font-weight="bold" text-anchor="middle" fill="#fff" textLength="39.2" lengthAdjust="spacingAndGlyphs" stroke="#fff" stroke-width="2.6" stroke-linejoin="miter">SI</text></g>
<g><circle cx="1633.7" cy="384.4" r="33.6" fill="url(#gs)"/><circle cx="1633.7" cy="384.4" r="32.4" fill="none" stroke="#2b5fa3" stroke-width="2.4" opacity="0.55"/><path d="M1603.5 379.4 A31.2 31.2 0 0 1 1663.9 379.4 Q1633.7 394.5 1603.5 379.4 Z" fill="url(#gloss)" opacity="0.6"/><text x="1633.8" y="403.0" font-size="50.5" font-weight="bold" text-anchor="middle" fill="#fff" textLength="39.2" lengthAdjust="spacingAndGlyphs" stroke="#fff" stroke-width="2.6" stroke-linejoin="miter">SI</text></g>
<g><ellipse cx="82.4" cy="151.3" rx="39.4" ry="40.5" fill="url(#gst)"/>
<ellipse cx="82.4" cy="151.3" rx="37.7" ry="38.8" fill="none" stroke="#2f2f2f" stroke-width="3.4"/>
<path d="M47.5 146 A36 36.5 0 0 1 117.3 146 Q82.4 160 47.5 146Z" fill="url(#gloss)" opacity="0.42"/>
<polygon points="60.1,129.7 112,151.15 60.1,172.6" fill="#e62e26" stroke="#ffe6dc" stroke-width="2" stroke-linejoin="miter"/>
</g>
<g><circle cx="1914.8" cy="146.2" r="40.2" fill="#353535"/>
<circle cx="1914.8" cy="146.2" r="32.6" fill="#fff"/>
<path d="M1884.5 134 A32.6 32.6 0 0 1 1945.1 134" fill="none" stroke="#a9adb0" stroke-width="2.6"/>
<circle cx="1914.8" cy="146.2" r="29.6" fill="url(#chk)"/>
</g>
<text x="140.9" y="146.4" font-size="39.0" font-weight="bold" text-anchor="start" fill="#1d1210" textLength="232.5" lengthAdjust="spacingAndGlyphs" stroke="#1d1210" stroke-width="0.7">SANT CUGAT</text>
<text x="140.9" y="191.4" font-size="39.0" font-weight="bold" text-anchor="start" fill="#1d1210" textLength="218.2" lengthAdjust="spacingAndGlyphs" stroke="#1d1210" stroke-width="0.7">DEL VALLÈS</text>
<text x="141.3" y="236.8" font-size="39.0" font-weight="bold" text-anchor="start" fill="#1d1210" textLength="92.2" lengthAdjust="spacingAndGlyphs" stroke="#1d1210" stroke-width="0.7">120m</text>
<text x="1616.4" y="139.6" font-size="39.0" font-weight="bold" text-anchor="start" fill="#1d1210" textLength="232.5" lengthAdjust="spacingAndGlyphs" stroke="#1d1210" stroke-width="0.7">SANT CUGAT</text>
<text x="1631.3" y="184.9" font-size="39.0" font-weight="bold" text-anchor="start" fill="#1d1210" textLength="218.6" lengthAdjust="spacingAndGlyphs" stroke="#1d1210" stroke-width="0.7">DEL VALLÈS</text>
<text x="1757.4" y="229.6" font-size="39.0" font-weight="bold" text-anchor="start" fill="#1d1210" textLength="93.6" lengthAdjust="spacingAndGlyphs" stroke="#1d1210" stroke-width="0.7">115m</text>
<text x="251.9" y="405.0" font-size="35.8" font-weight="bold" text-anchor="start" fill="#1d1210" textLength="99.6" lengthAdjust="spacingAndGlyphs" stroke="#1d1210" stroke-width="0.5">Coll de</text>
<text x="251.9" y="443.5" font-size="35.8" font-weight="bold" text-anchor="start" fill="#1d1210" textLength="195.9" lengthAdjust="spacingAndGlyphs" stroke="#1d1210" stroke-width="0.5">Castellbisbal</text>
<text x="251.9" y="481.5" font-size="35.8" font-weight="bold" text-anchor="start" fill="#1d1210" textLength="91.5" lengthAdjust="spacingAndGlyphs" stroke="#1d1210" stroke-width="0.5">280m</text>
<text x="563.8" y="262.8" font-size="35.8" font-weight="bold" text-anchor="start" fill="#1d1210" textLength="60.5" lengthAdjust="spacingAndGlyphs" stroke="#1d1210" stroke-width="0.5">Port</text>
<text x="563.8" y="301.2" font-size="35.8" font-weight="bold" text-anchor="start" fill="#1d1210" textLength="166.2" lengthAdjust="spacingAndGlyphs" stroke="#1d1210" stroke-width="0.5">D’Ullastrell</text>
<text x="564.8" y="338.5" font-size="35.8" font-weight="bold" text-anchor="start" fill="#1d1210" textLength="91.5" lengthAdjust="spacingAndGlyphs" stroke="#1d1210" stroke-width="0.5">380m</text>
<text x="953.9" y="487.6" font-size="35.8" font-weight="bold" text-anchor="start" fill="#1d1210" textLength="76.9" lengthAdjust="spacingAndGlyphs" stroke="#1d1210" stroke-width="0.5">Piera</text>
<text x="944.9" y="525.6" font-size="35.8" font-weight="bold" text-anchor="start" fill="#1d1210" textLength="87.2" lengthAdjust="spacingAndGlyphs" stroke="#1d1210" stroke-width="0.5">315m</text>
<text x="1299.2" y="289.8" font-size="35.8" font-weight="bold" text-anchor="start" fill="#1d1210" textLength="202.7" lengthAdjust="spacingAndGlyphs" stroke="#1d1210" stroke-width="0.5">Alt de la Creu</text>
<text x="1369.2" y="328.3" font-size="35.8" font-weight="bold" text-anchor="start" fill="#1d1210" textLength="132.7" lengthAdjust="spacingAndGlyphs" stroke="#1d1210" stroke-width="0.5">d’Aragall</text>
<text x="1410.4" y="366.7" font-size="35.8" font-weight="bold" text-anchor="start" fill="#1d1210" textLength="91.5" lengthAdjust="spacingAndGlyphs" stroke="#1d1210" stroke-width="0.5">505m</text>
<text x="1617.8" y="459.7" font-size="35.8" font-weight="bold" text-anchor="start" fill="#1d1210" textLength="162.5" lengthAdjust="spacingAndGlyphs" stroke="#1d1210" stroke-width="0.5">Corbera de</text>
<text x="1616.8" y="498.2" font-size="35.8" font-weight="bold" text-anchor="start" fill="#1d1210" textLength="144.5" lengthAdjust="spacingAndGlyphs" stroke="#1d1210" stroke-width="0.5">Llobregat</text>
<text x="1617.7" y="535.4" font-size="35.8" font-weight="bold" text-anchor="start" fill="#1d1210" textLength="88.7" lengthAdjust="spacingAndGlyphs" stroke="#1d1210" stroke-width="0.5">190m</text>
<text x="1944.4" y="774.2" font-size="29.3" font-weight="bold" text-anchor="start" fill="#1d1d1d" textLength="121.2" lengthAdjust="spacingAndGlyphs" letter-spacing="1.3" stroke="#1d1d1d" stroke-width="0.7">Ascenso:</text>
<text x="1964.2" y="805.6" font-size="31.5" font-weight="bold" text-anchor="start" fill="#1d1d1d" textLength="105.1" lengthAdjust="spacingAndGlyphs" letter-spacing="1.3" stroke="#1d1d1d" stroke-width="0.7">1.931 m</text>
<text x="1963.1" y="889.0" font-size="38.0" font-weight="bold" text-anchor="start" fill="#1d1d1d" textLength="88.0" lengthAdjust="spacingAndGlyphs" stroke="#1d1d1d" stroke-width="0.5">126,9</text>
</svg>
</body></html>
